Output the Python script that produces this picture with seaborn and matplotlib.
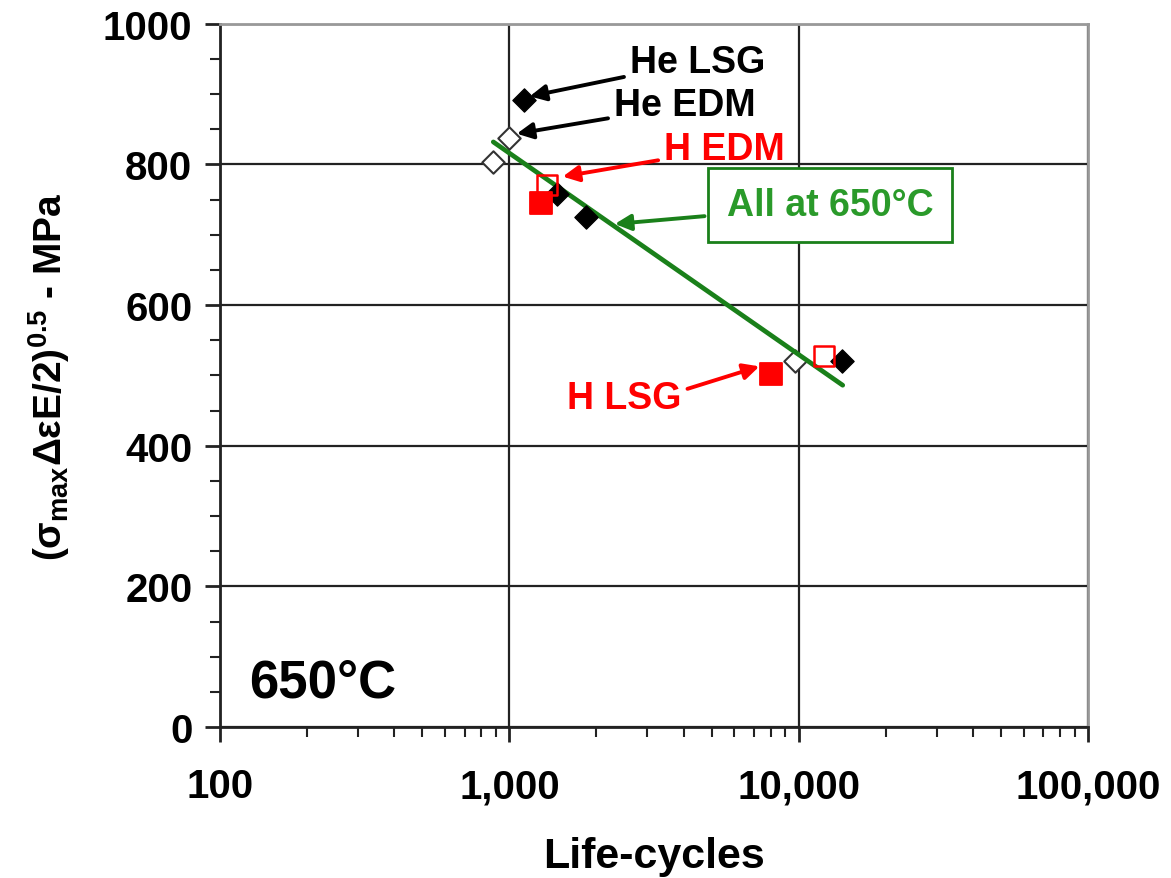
import matplotlib
matplotlib.use("Agg")
import matplotlib.pyplot as plt
import matplotlib.ticker as mticker
import seaborn as sns
import pandas as pd
import numpy as np

# data (life-cycles, stress parameter MPa)
he_lsg_x = [1120, 1460, 1840, 14100]
he_lsg_y = [892, 758, 725, 520]
he_edm_x = [1000, 880, 9700]
he_edm_y = [838, 803, 520]
h_lsg_x = [1290, 8000]
h_lsg_y = [745, 502]
h_edm_x = [1350, 12200]
h_edm_y = [771, 527]
fit_x = [880, 14200]
fit_y = [832, 486]

x_ticks = [100, 1000, 10000, 100000]
x_labels = ["100", "1,000", "10,000", "100,000"]
y_ticks = [0, 200, 400, 600, 800, 1000]

sns.set_style("white")
plt.rcParams["font.family"] = ["Liberation Sans", "DejaVu Sans"]
plt.rcParams["font.weight"] = "bold"
plt.rcParams["text.color"] = "black"
plt.rcParams["axes.labelcolor"] = "black"
plt.rcParams["xtick.color"] = "black"
plt.rcParams["ytick.color"] = "black"
plt.rcParams["mathtext.fontset"] = "custom"
plt.rcParams["mathtext.rm"] = "Liberation Sans:bold"
plt.rcParams["mathtext.it"] = "Liberation Sans:bold"
plt.rcParams["mathtext.bf"] = "Liberation Sans:bold"

fig = plt.figure(figsize=(11.71, 8.79), dpi=100)
ax = fig.add_axes([0.1879, 0.1718, 0.7412, 0.8000])

df = pd.concat([
    pd.DataFrame({"x": he_lsg_x, "y": he_lsg_y, "set": "He LSG"}),
    pd.DataFrame({"x": he_edm_x, "y": he_edm_y, "set": "He EDM"}),
    pd.DataFrame({"x": h_lsg_x, "y": h_lsg_y, "set": "H LSG"}),
    pd.DataFrame({"x": h_edm_x, "y": h_edm_y, "set": "H EDM"}),
], ignore_index=True)

# fit line
sns.lineplot(x=fit_x, y=fit_y, color="#1a801a", lw=3.4, ax=ax, zorder=3)

styles = {
    "He LSG": dict(marker="D", s=140, color="black", edgecolor="black", zorder=4),
    "He EDM": dict(marker="D", s=130, facecolor="white", edgecolor="#333333", linewidth=1.5, zorder=2.5),
    "H LSG": dict(marker="s", s=260, color="#ff0000", edgecolor="#ff0000", zorder=5),
    "H EDM": dict(marker="s", s=210, facecolor="none", edgecolor="#ff0000", linewidth=1.8, zorder=5),
}
for name, kw in styles.items():
    sub = df[df["set"] == name]
    sns.scatterplot(data=sub, x="x", y="y", ax=ax, legend=False, **kw)

ax.set_xscale("log")
ax.set_xlim(100, 100000)
ax.set_ylim(0, 1000)
ax.set_xticks(x_ticks)
ax.set_xticklabels(x_labels)
ax.set_yticks(y_ticks)
ax.xaxis.set_minor_locator(mticker.LogLocator(base=10, subs=np.arange(2, 10)))
ax.xaxis.set_minor_formatter(mticker.NullFormatter())
ax.yaxis.set_minor_locator(mticker.MultipleLocator(50))

ax.grid(True, which="major", color="#222222", lw=1.6, zorder=1)
ax.set_axisbelow(True)
for s in ["left", "bottom"]:
    ax.spines[s].set_color("#222222")
    ax.spines[s].set_linewidth(2)
for s in ["top", "right"]:
    ax.spines[s].set_color("#999999")
    ax.spines[s].set_linewidth(2)

ax.tick_params(bottom=True, left=True, top=False, right=False, which="both")
ax.tick_params(axis="both", which="major", direction="out", length=11, width=2,
               color="#222222", labelsize=29, labelcolor="black")
ax.tick_params(axis="both", which="minor", direction="out", length=7, width=1.5,
               color="#222222")
ax.tick_params(axis="x", which="major", pad=18)
ax.tick_params(axis="y", which="major", pad=9)
for lab in ax.get_xticklabels() + ax.get_yticklabels():
    lab.set_fontweight("bold")

ax.set_xlabel("Life-cycles", fontsize=31, fontweight="bold", labelpad=22, color="black")
ax.set_ylabel(r"$(\sigma_{max}\Delta\varepsilon E/2)^{0.5}$ - MPa", fontsize=28,
              fontweight="bold", labelpad=22, color="black")

arrow_k = dict(arrowstyle="-|>", lw=2.8, mutation_scale=24)
ax.annotate("He LSG", xy=(1151, 896), xytext=(2612, 946), fontsize=27, fontweight="bold",
            color="black", va="center", ha="left",
            arrowprops=dict(color="black", **arrow_k))
ax.annotate("He EDM", xy=(1038, 843), xytext=(2301, 884), fontsize=27, fontweight="bold",
            color="black", va="center", ha="left",
            arrowprops=dict(color="black", **arrow_k))
ax.annotate("H EDM", xy=(1496, 782), xytext=(3428, 822), fontsize=27, fontweight="bold",
            color="#ff0000", va="center", ha="left",
            arrowprops=dict(color="#ff0000", **arrow_k))
ax.annotate("All at 650\u00b0C", xy=(2265, 715), xytext=(5656, 742), fontsize=27,
            fontweight="bold", color="#2a9a2a", va="center", ha="left",
            bbox=dict(boxstyle="square,pad=0.5", fc="white", ec="#1a801a", lw=2),
            arrowprops=dict(color="#1a801a", **arrow_k))
ax.annotate("H LSG", xy=(7473, 514), xytext=(1583, 468), fontsize=27, fontweight="bold",
            color="#ff0000", va="center", ha="left",
            arrowprops=dict(color="#ff0000", relpos=(1.0, 0.7), **arrow_k))

ax.text(0.033, 0.028, "650\u00b0C", transform=ax.transAxes, fontsize=38,
        fontweight="bold", color="black", ha="left", va="bottom")

fig.savefig("out.png", dpi=100)
